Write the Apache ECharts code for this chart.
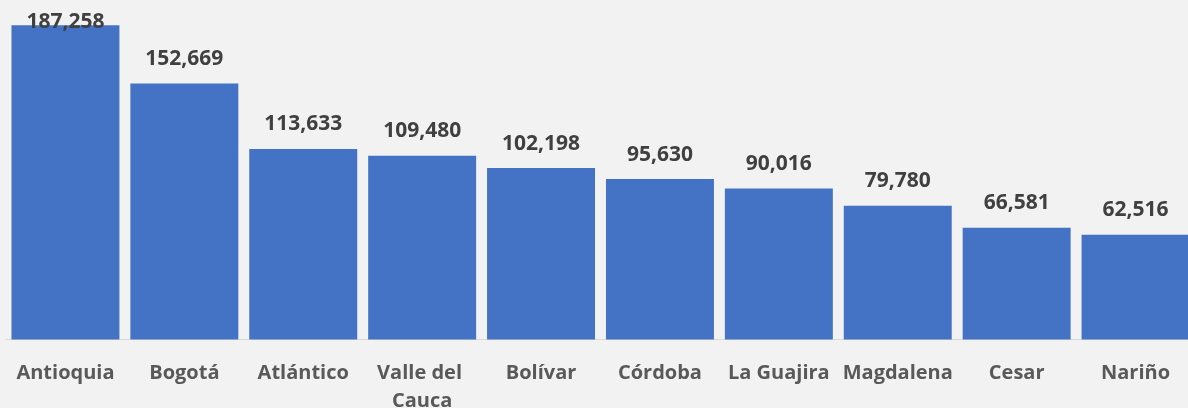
<!DOCTYPE html>
<html>
<head>
<meta charset="utf-8">
<script src="https://cdn.jsdelivr.net/npm/echarts@6/dist/echarts.min.js"></script>
<style>
  html, body { margin: 0; padding: 0; background: #f2f2f2; }
  #chart { width: 1188px; height: 408px; }
</style>
</head>
<body>
<div id="chart"></div>
<script>
const departamentos = ['Antioquia', 'Bogotá', 'Atlántico', 'Valle del Cauca', 'Bolívar', 'Córdoba', 'La Guajira', 'Magdalena', 'Cesar', 'Nariño']
const valores = [187258, 152669, 113633, 109480, 102198, 95630, 90016, 79780, 66581, 62516]

const chart = echarts.init(document.getElementById('chart'))

const fmt = new Intl.NumberFormat('en-US')

chart.setOption({
  backgroundColor: '#f2f2f2',
  animation: false,
  grid: { left: 6, width: 1189, top: 4, bottom: 68.5, outerBoundsMode: 'none', containLabel: false },
  xAxis: {
    type: 'category',
    data: departamentos,
    axisLine: { lineStyle: { color: '#d9d9d9', width: 1 } },
    axisTick: { show: false },
    axisLabel: {
      interval: 0,
      margin: 20,
      width: 118,
      overflow: 'break',
      lineHeight: 28,
      fontFamily: 'Open Sans',
      fontWeight: 'bold',
      fontSize: 20,
      color: '#595959'
    }
  },
  yAxis: {
    type: 'value',
    min: 0,
    max: 200000,
    show: false,
    splitLine: { show: false }
  },
  series: [{
    type: 'bar',
    data: valores.map((v, i) => i === 0
      ? { value: v, label: { offset: [0, 21] } }
      : v),
    barCategoryGap: '9.2%',
    itemStyle: { color: '#4472c4' },
    label: {
      show: true,
      position: 'top',
      distance: 14,
      fontFamily: 'Open Sans',
      fontWeight: 'bold',
      fontSize: 21,
      color: '#404040',
      formatter: p => fmt.format(p.value)
    }
  }]
})
</script>
</body>
</html>
